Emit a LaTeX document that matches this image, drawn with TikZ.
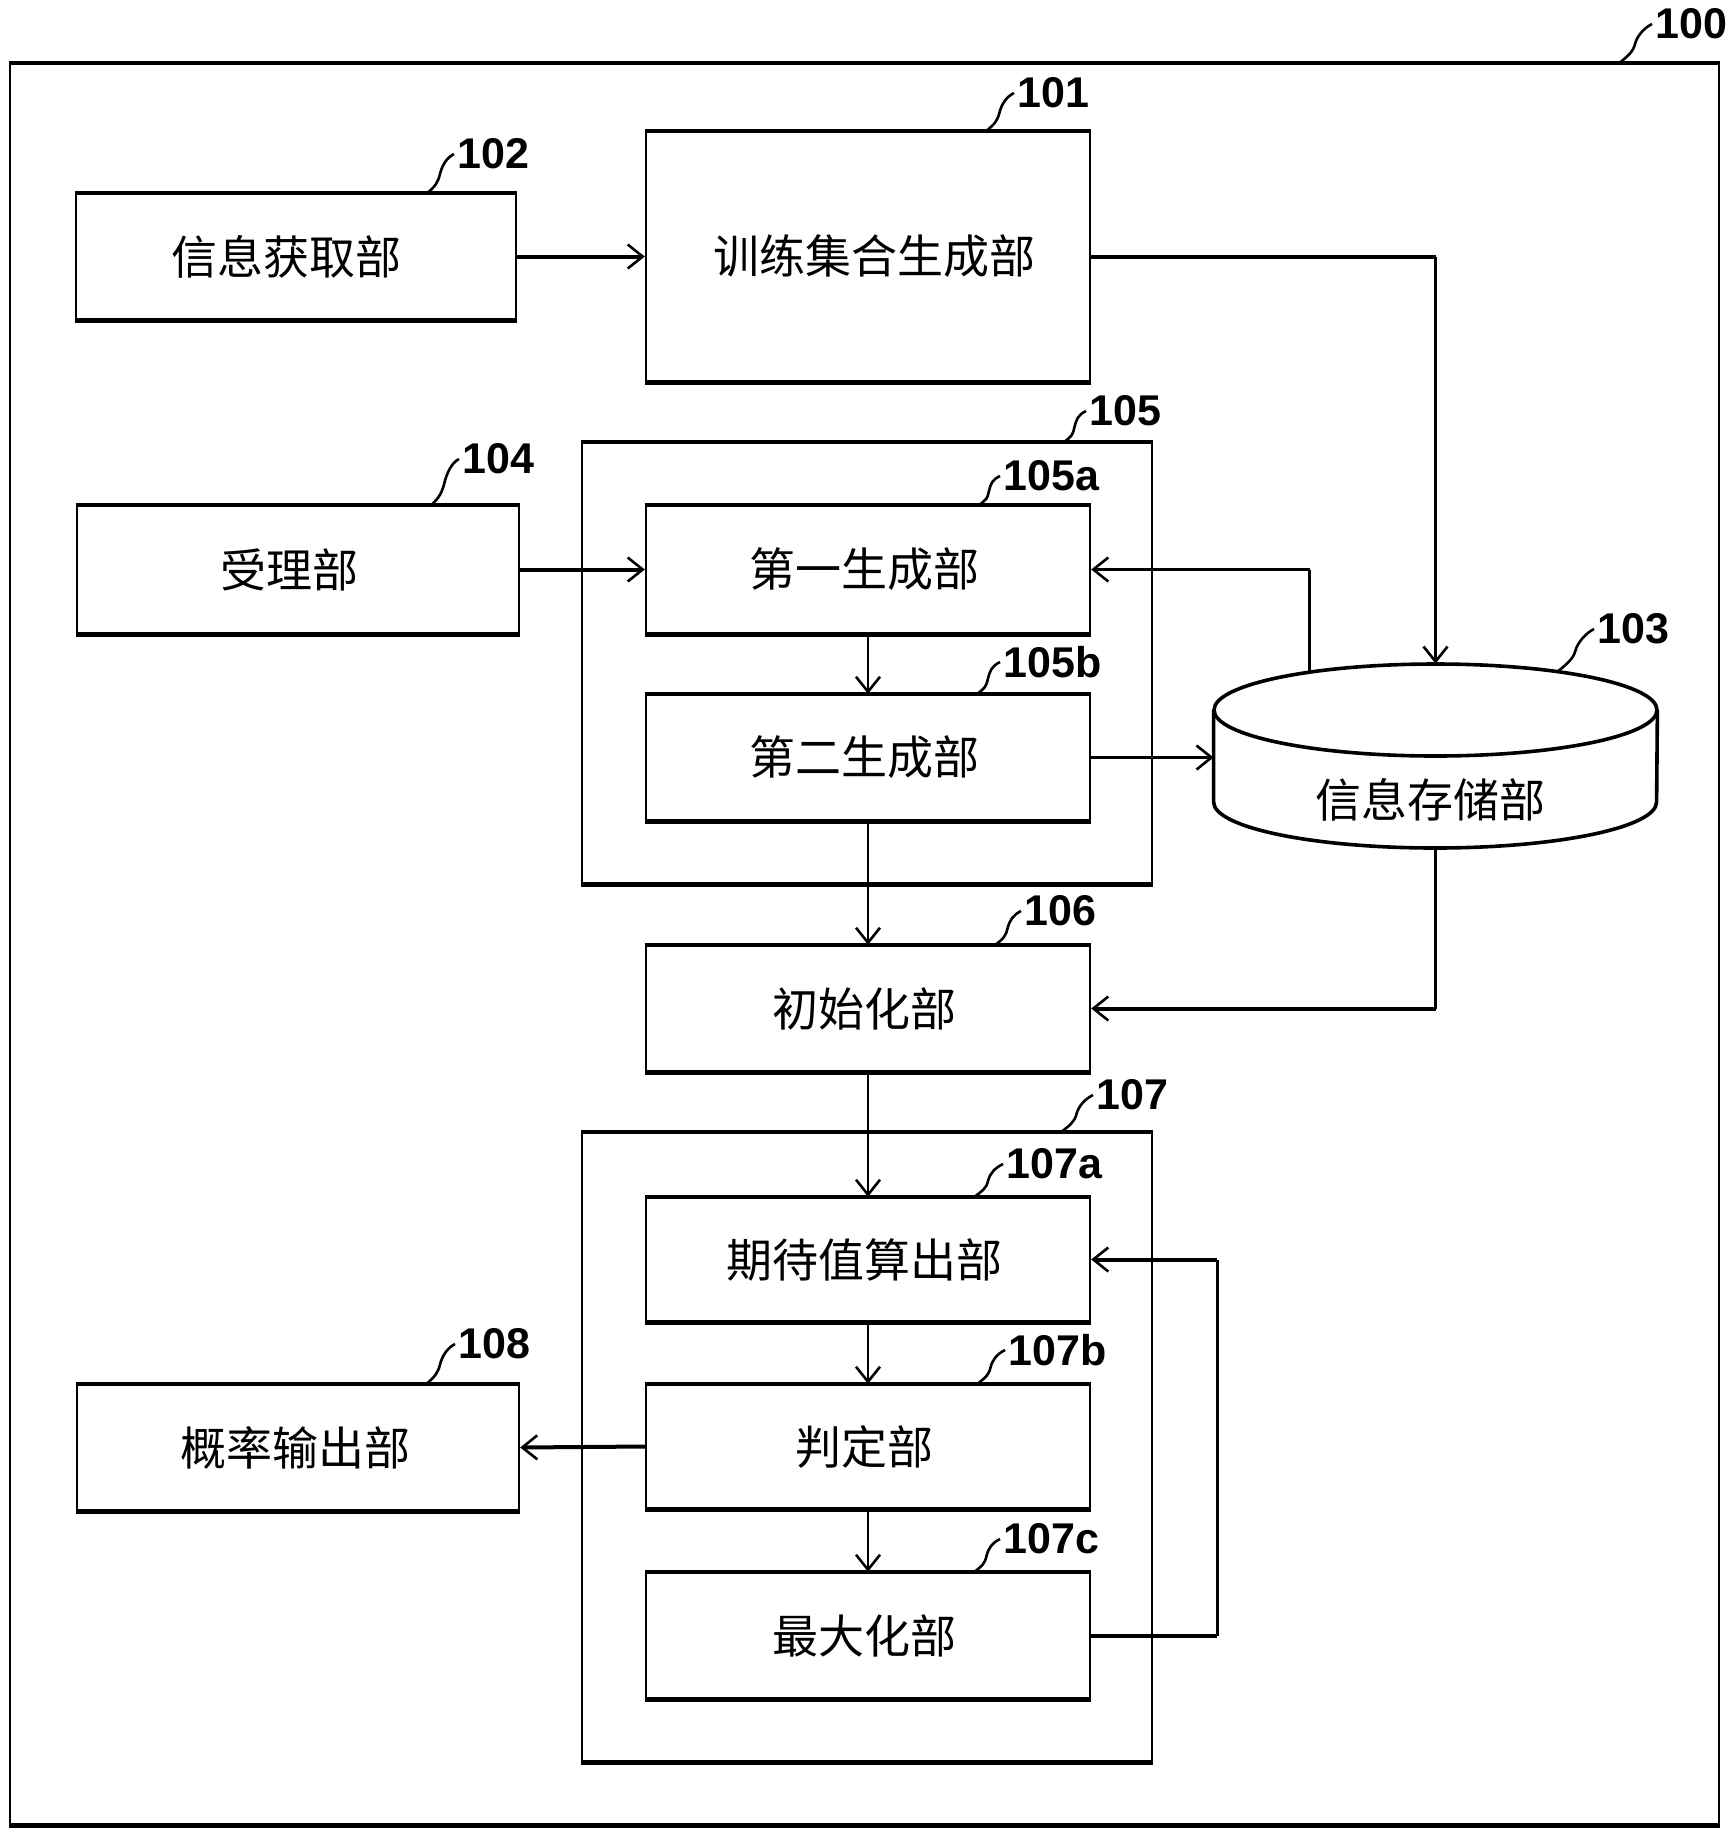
\documentclass[tikz,border=0pt]{standalone}
\usepackage{fontspec}
\newfontfamily\cjk{Noto Sans CJK SC}
\newfontfamily\numf{Liberation Sans}
\usetikzlibrary{arrows.meta,calc}
\newcommand\ldr[2]{\draw[ldrline] (#1) .. controls +(10,-8) and +(-2,8) .. ($(#1)!0.5!(#2)$) .. controls +(2,-8) and +(-8,4) .. (#2);}
\begin{document}
\begin{tikzpicture}[x=0.5pt,y=-0.5pt,
  thinl/.style={line width=1.2pt},
  thickl/.style={line width=2.3pt},
  box/.style={draw, thinl, minimum width=222pt, minimum height=62.5pt, inner sep=0pt,
    font=\cjk\fontsize{23pt}{23pt}\selectfont},
  cont/.style={draw, thinl, inner sep=0pt},
  lbl/.style={anchor=west, inner sep=1.5pt, font=\numf\bfseries\fontsize{21.5pt}{21.5pt}\selectfont},
  ldrline/.style={line width=1.3pt},
  vc/.style={line width=1.3pt},
  hc/.style={line width=2pt},
  arr/.style={-{Straight Barb[length=7.5pt,width=12pt,line width=1.3pt]}},
]
\useasboundingbox (0,0) rectangle (1728,1832);
% outer frame
\node[cont, minimum width=854.5pt, minimum height=880pt] (o100) at (864.5,944) {};
% containers
\node[cont, minimum width=285pt, minimum height=220pt] (c105) at (867,663) {};
\node[cont, minimum width=285pt, minimum height=314pt] (c107) at (867,1447) {};
% boxes
\node[box, minimum height=124.5pt] (b101) at (868,256.5) {训练集合生成部\kern-6pt};
\node[box, minimum width=220pt] (b102) at (296,256.5) {信息获取部\kern10pt};
\node[box, minimum width=221pt, minimum height=63.5pt] (b104) at (298,569.5) {受理部\kern9pt};
\node[box, minimum height=63.5pt] (b105a) at (868,569.5) {第一生成部\kern4pt};
\node[box] (b105b) at (868,757.5) {第二生成部\kern4pt};
\node[box] (b106) at (868,1008.5) {初始化部\kern4pt};
\node[box, minimum height=61.5pt] (b107a) at (868,1259.5) {期待值算出部\kern4pt};
\node[box, minimum height=61.5pt] (b107b) at (868,1446.5) {判定部\kern4pt};
\node[box] (b107c) at (868,1635.5) {最大化部\kern4pt};
\node[box, minimum width=221pt] (b108) at (298,1447.5) {概率输出部\kern3pt};
% thick horizontal edges (scan look)
\foreach \n in {o100,c105,c107,b101,b102,b104,b105a,b105b,b106,b107a,b107b,b107c,b108}{
  \draw[thickl] (\n.north west) -- (\n.north east) (\n.south west) -- (\n.south east);
}
% storage cylinder
\node[minimum width=221.5pt, minimum height=92pt, inner sep=0pt] (db) at (1435.5,756) {};
\draw[line width=1.8pt] (db.north west |- 0,710) -- (db.south west |- 0,802)
  arc[start angle=180, end angle=0, x radius=221.5, y radius=46] -- (db.north east |- 0,710);
\draw[line width=1.8pt] (1435.5,710) ellipse [x radius=221.5, y radius=46];
\node[font=\cjk\fontsize{23pt}{23pt}\selectfont, inner sep=0pt] (dbt) at (1430,800) {信息存储部};
% connectors
\draw[hc,arr] (b102.east) -- (b102.east -| b101.west);
\draw[hc] (b101.east) -- (b101.east -| db.north);
\draw[vc,arr] (b101.east -| db.north) -- (db.north);
\draw[hc,arr] (b104.east) -- (b105a.west);
\coordinate (tap) at ($(db.north)+(-126,8)$);
\draw[vc] (tap) -- (tap |- b105a.east);
\draw[vc,arr] (tap |- b105a.east) -- (b105a.east);
\draw[vc,arr] (b105a.south) -- (b105b.north);
\draw[vc,arr] (b105b.east) -- (b105b.east -| db.west);
\draw[vc,arr] (b105b.south) -- (b106.north);
\draw[vc] (db.south) -- (db.south |- b106.east);
\draw[hc,arr] (db.south |- b106.east) -- (b106.east);
\draw[vc,arr] (b106.south) -- (b107a.north);
\draw[vc,arr] (b107a.south) -- (b107b.north);
\draw[vc,arr] (b107b.south) -- (b107c.north);
\coordinate (loop) at ($(b107c.east)+(126,0)$);
\draw[hc] (b107c.east) -- (loop);
\draw[vc] (loop) -- (loop |- b107a.east);
\draw[hc,arr] (loop |- b107a.east) -- (b107a.east);
\draw[hc,arr] (b107b.west) -- (b108.east);
% reference labels
\node[lbl] (l100) at (1652,24) {100};
\node[lbl] (l101) at (1014,93) {101};
\node[lbl] (l102) at (454,154) {102};
\node[lbl] (l104) at (459,459) {104};
\node[lbl] (l105) at (1086,411) {105};
\node[lbl] (l105a) at (1000,476) {105a};
\node[lbl] (l105b) at (1000,662) {105b};
\node[lbl] (l103) at (1594,629) {103};
\node[lbl] (l106) at (1021,911) {106};
\node[lbl] (l107) at (1093,1095) {107};
\node[lbl] (l107a) at (1003,1164) {107a};
\node[lbl] (l107b) at (1005,1350) {107b};
\node[lbl] (l107c) at (1000,1539) {107c};
\node[lbl] (l108) at (455,1344) {108};
\coordinate (s100) at (1618,64);
\coordinate (s101) at (985,132);
\coordinate (s102) at (426,194);
\coordinate (s104) at (430,506);
\coordinate (s105) at (1063,443);
\coordinate (s105a) at (978,506);
\coordinate (s105b) at (976,695);
\coordinate (s103) at (1557,672);
\coordinate (s106) at (994,946);
\coordinate (s107) at (1060,1133);
\coordinate (s107a) at (973,1198);
\coordinate (s107b) at (976,1385);
\coordinate (s107c) at (973,1573);
\coordinate (s108) at (425,1385);
\foreach \k in {100,101,102,104,105,105a,105b,103,106,107,107a,107b,107c,108}{
  \ldr{s\k}{l\k.west}
}
\end{tikzpicture}
\end{document}
